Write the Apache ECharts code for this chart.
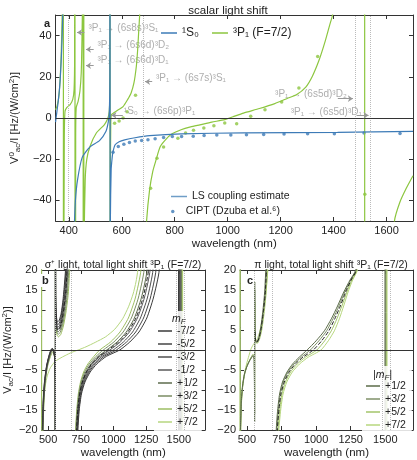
<!DOCTYPE html>
<html>
<head>
<meta charset="utf-8">
<script src="https://cdn.jsdelivr.net/npm/echarts@6/dist/echarts.min.js"></script>
<style>
  html, body { margin: 0; padding: 0; background: #fff; }
  #chart { width: 417px; height: 460px; }
</style>
</head>
<body>
<div id="chart"></div>
<script>
// panel a: scalar light shift, [wavelength nm, Hz/(W/cm2)]; +-500 marks the jump through a resonance
const s0Curve = [[350,-2],[355,3],[360,8],[366,16],[371,27],[375,40],[378,55],[399,'-'],
  [421,-52],[425,-40],[433,-30],[451,-19],[480,-14],[516,-11],[540,-6.6],[549,-2],[553,3],[555,20],
  [555.7,500],[556.3,-500],[557,-50],[560,-25],[564,-19],[567,-16.3],[575,-13],[590,-11.5],[611,-10.6],
  [650,-9.6],[705,-8.6],[824,-7.7],[1060,-7.2],[1415,-7],[1700,-6.5]]
const p1Curve = [[350,4],[356,6],[362,10],[367,18],[371,30],[374,45],[375.5,55],[379,500],[380,-500],
  [381,-100],[383,-10],[385.5,3],[392,5],[405,6.5],[415,9],[420,14],[422,30],[423,500],[424,-500],
  [426,-10],[428,5],[435,8],[442,13],[447,22],[450,40],[452,60],[454,500],[454.5,-500],[456.5,500],[457,-500],
  [458,-60],[462,-30],[468,-20],[480,-13.8],[504,-7.3],[534,-3.3],[545,-0.8],[551,1.5],[554,6],[555.3,40],
  [555.7,500],[556.2,-500],[557,-30],[558.5,-3],[561,1.6],[570,2.5],[587,4],[605,5.5],[622,8.9],[635,12],
  [646,17],[655,25],[660,33],[664,42],[667.6,50],[670,65],[680,'-'],
  [692,-60],[694,-49.7],[705,-35],[717,-26],[729,-20.6],[745,-14],[765,-10.6],[790,-7.7],[824,-5.7],
  [860,-4.3],[895,-3.3],[940,-2],[989,-0.8],[1020,0.6],[1060,2.4],[1120,4.6],[1178,7],[1225,9.5],
  [1261,11.4],[1295,15],[1320,20.3],[1345,28],[1367,36.7],[1385,45],[1396,50],[1430,90],[1510,300],
  [1517,500],[1518,-500],[1560,-150],[1630,-50],[1650,-41],[1675,-34],[1700,-28]]
const s0Cipt = [[567,-16.6],[587,-13.8],[608,-12.7],[629,-11.9],[651,-11.2],[675,-10.9],[699,-10.6],
  [726,-10.1],[758,-9.5],[791,-9],[826,-9],[870,-8.8],[911,-8.5],[959,-8.3],[1012,-8.3],[1071,-8.1],
  [1136,-8],[1213,-7.8],[1302,-7.7],[1403,-7.7],[1515,-7.3],[1651,-7.5]]
const p1Cipt = [[573,-2.5],[590,-1.5],[605,0],[620,3],[652,11],[709,-34.1],[733,-19.5],[758,-14.1],
  [812,-9.8],[841,-7.3],[871,-6],[910,-4.9],[948,-3.8],[989,-2.4],[1034,-2.8],[1087,0.8],[1141,4],
  [1204,7.8],[1269,14.6],[1340,29.8],[1518,-37]]
const resonancesA = [399, 680, 1480, 1539]
const resonancesBC = [556, 680, 1480, 1539]

// panel b: sigma+ light, one curve per m_F
const mfLabels = ['-7/2','-5/2','-3/2','-1/2','+1/2','+3/2','+5/2','+7/2']
const sigM7 = [[456,-20],[462,-13],[472,-8],[488,-4],[505,-1.6],[520,-0.1],[530,0.4],[538,0.2],[546,-0.8],[552,-2.5],[555,-8],[555.8,-60],
  [556.2,60],[557.5,15],[560,10],[565,8],[572,7],[585,7.4],[600,9.2],[614,12.5],[625,16.5],[633,20],[640,30],[680,'-'],
  [715,-40],[728,-20],[738,-15],[755,-11],[782,-8],[822,-5.5],[872,-3.5],[945,-1.6],[1048,0],[1125,2],[1195,4.5],[1255,8],[1305,13],[1350,20],[1400,60],
  [1497,400],[1498,-400],[1560,-80]]
const sigM5 = [[457,-20],[463,-13],[473,-8],[489,-4],[506,-1.6],[521,-0.1],[531,0.35],[539,0.1],[547,-0.9],[552,-2.6],[555,-8],[555.8,-60],
  [556.2,60],[557.5,14],[560,9.2],[565,7.3],[572,6.3],[586,6.7],[601,8.6],[616,12],[628,16],[636,20],[643,30],[680,'-'],
  [712,-40],[725,-20],[735,-15],[751,-11],[776,-8],[813,-5.5],[860,-3.5],[928,-1.6],[1022,0],[1100,2],[1170,4.5],[1230,8],[1282,13],[1325,20],[1380,60],
  [1501.5,400],[1502.5,-400],[1560,-80]]
const sigM3 = [[458,-20],[464,-13],[474,-8],[490,-4],[507,-1.7],[522,-0.2],[531,0.3],[540,0],[547,-1],[552,-2.7],[555,-8],[555.8,-60],
  [556.2,60],[557.5,13],[560,8.4],[565,6.6],[573,5.7],[587,6.1],[603,8],[619,11.5],[631,15.5],[640,20],[647,30],[680,'-'],
  [709,-40],[722,-20],[732,-15],[747,-11],[770,-8],[805,-5.5],[849,-3.5],[912,-1.6],[998,0],[1076,2],[1146,4.5],[1206,8],[1259,13],[1302,20],[1360,60],
  [1506,400],[1507,-400],[1560,-80]]
const sigM1 = [[459,-20],[465,-13],[475,-8],[491,-4],[508,-1.7],[523,-0.2],[532,0.25],[540,-0.1],[548,-1.1],[553,-2.8],[555.2,-8],[555.8,-60],
  [556.2,60],[557.5,12],[560,7.6],[566,5.9],[574,5.1],[589,5.6],[606,7.5],[623,11],[636,15],[645,20],[652,30],[680,'-'],
  [706,-40],[719,-20],[729,-15],[743,-11],[765,-8],[797,-5.5],[838,-3.5],[897,-1.6],[973,0],[1052,2],[1122,4.5],[1183,8],[1236,13],[1280,20],[1340,60],
  [1510.5,400],[1511.5,-400],[1560,-80]]
const sigP1 = [[460,-20],[466,-13],[476,-8],[492,-4],[509,-1.8],[524,-0.3],[532,0.2],[541,-0.2],[548,-1.2],[553,-3],[555.2,-8],[555.8,-60],
  [556.2,60],[557.5,11],[560,6.8],[566,5.2],[575,4.5],[591,5],[609,7],[627,10.5],[641,14.5],[651,20],[658,30],[680,'-'],
  [703,-40],[716,-20],[726,-15],[739,-11],[759,-8],[789,-5.5],[827,-3.5],[882,-1.6],[948,0],[1028,2],[1098,4.5],[1160,8],[1213,13],[1257,20],[1320,60],
  [1515,400],[1516,-400],[1560,-80]]
const sigP3 = [[461,-20],[467,-13],[477,-8],[493,-4.2],[510,-2],[525,-0.6],[533,-0.1],[541,-0.5],[549,-1.5],[553,-3.2],[555.2,-8],[555.8,-60],
  [556.2,60],[557.5,10],[561,6],[567,4.5],[577,3.9],[594,4.5],[613,6.5],[632,10],[647,14],[658,20],[665,30],[680,'-'],
  [700,-40],[713,-20],[722,-15],[735,-11],[753,-8],[780,-5.5],[815,-3.5],[866,-1.6],[922,0],[1003,2],[1074,4.5],[1137,8],[1190,13],[1234,20],[1300,60],
  [1519.5,400],[1520.5,-400],[1560,-80]]
const sigP5 = [[450.3,60],[450.8,-60],[462,-20],[468,-13],[478,-8],[494,-4.4],[511,-2.3],[526,-1],[534,-0.6],[542,-0.9],[549,-1.8],[553,-3.4],[555.2,-8],[555.8,-60],
  [556.2,60],[557.5,9],[561,5.2],[568,3.8],[579,3.3],[597,3.9],[617,6],[637,9.5],[654,14],[665,20],[672,30],[680,'-'],
  [697,-40],[710,-20],[719,-15],[731,-11],[748,-8],[772,-5.5],[804,-3.5],[850,-1.6],[895,0],[978,2],[1050,4.5],[1114,8],[1167,13],[1210,20],[1280,60],
  [1524,400],[1525,-400],[1560,-80]]
const sigP7 = [[450.5,60],[451,-60],[458,-20],[466,-13],[478,-9],[495,-6.3],[515,-4.6],[535,-3.6],[556,-2.8],[590,-2.1],[630,-1.4],
  [680,-0.6],[730,0],[790,0.8],[860,1.9],[940,3.3],[1010,5.2],[1070,7.8],[1115,10.8],[1150,14],[1172,17],[1186,20],[1230,60],
  [1528.5,400],[1529.5,-400],[1560,-80]]
const sigScalar = [[556.2,60],[557.5,12],[560,7.5],[566,5.8],[574,5],[589,5.5],[606,7.5],[623,11],[636,15],[645,20],[652,30],[680,'-'],
  [705,-40],[718,-20],[727,-15],[741,-11],[762,-8],[793,-5.5],[833,-3.5],[890,-1.6],[960,0],[1040,2],[1110,4.5],[1172,8],[1225,13],[1268,20],[1330,60]]

// panel c: pi light, one curve per |m_F|
const absMfLabels = ['+1/2','+3/2','+5/2','+7/2']
const piP1 = [[453,-20],[459,-13],[468,-9],[482,-6],[500,-4.1],[518,-2.8],[532,-2],[541,-1.6],[548,-1.7],[553,-2.6],[555.7,-18],
  [556.3,17],[558,5],[562,2.6],[570,2.1],[585,3],[600,5.6],[615,9.7],[627,14],[636,20],[645,35],[680,'-'],
  [700,-40],[712,-20],[722,-15],[736,-11],[757,-8],[790,-5.5],[830,-3.5],[878,-1.8],[935,0],[1000,2.3],[1060,4.8],[1110,7.8],
  [1155,11],[1200,14.5],[1245,17.5],[1285,20],[1330,60],[1497,400],[1498,-400],[1560,-80]]
const piP3 = [[454,-20],[460,-13],[469,-9],[483,-6],[501,-4],[519,-2.6],[533,-1.8],[542,-1.3],[548,-1.4],[553,-2.3],[555.7,-16],
  [556.3,15],[558,4.6],[562,2.4],[571,1.8],[587,2.8],[603,5.3],[619,9.5],[632,14],[641,20],[650,35],[680,'-'],
  [703,-40],[716,-20],[727,-15],[741,-11],[763,-8],[797,-5.5],[840,-3.5],[892,-1.8],[958,0],[1020,2.3],[1076,4.8],[1122,7.8],
  [1165,11],[1207,14.5],[1249,17.5],[1288,20],[1330,60],[1502,400],[1503,-400],[1560,-80]]
const piP5 = [[450.5,60],[451,-60],[455,-20],[461,-13],[470,-9],[484,-6],[502,-3.9],[520,-2.5],[534,-1.6],[543,-1.1],[549,-1.2],[553,-2],[555.7,-12],
  [556.3,12],[558,4.2],[563,2.2],[573,1.6],[590,2.6],[607,5],[624,9.2],[638,14],[648,20],[656,35],[680,'-'],
  [712,-40],[725,-20],[737,-15],[753,-11],[778,-8],[815,-5.5],[863,-3.5],[922,-1.8],[1005,0],[1062,2.3],[1110,4.8],[1150,7.8],
  [1186,11],[1222,14.5],[1258,17.5],[1294,20],[1340,60],[1507,400],[1508,-400],[1560,-80]]
const piP7 = [[450.8,60],[451.3,-60],[455,-20],[462,-12],[472,-8],[487,-5],[503,-2.8],[518,-1],[530,0.3],[545,1.3],[560,2],[575,2.8],
  [592,4.5],[610,7.5],[627,11.5],[641,16],[651,20],[660,35],[680,'-'],
  [716,-40],[731,-20],[744,-15],[761,-11],[788,-8],[828,-5.5],[880,-3.5],[943,-1.8],[1035,0],[1088,2.3],[1132,4.8],[1168,7.8],
  [1199,11],[1231,14.5],[1264,17.5],[1298,20],[1340,60],[1512,400],[1513,-400],[1560,-80]]
const piScalar = [[558,4.6],[562,2.4],[571,1.9],[587,2.9],[603,5.4],[619,9.6],[632,14],[641,20],[650,35],[680,'-'],
  [708,-40],[720,-20],[731,-15],[746,-11],[770,-8],[805,-5.5],[850,-3.5],[905,-1.8],[980,0],[1040,2.3],[1092,4.8],[1135,7.8],
  [1175,11],[1214,14.5],[1253,17.5],[1291,20],[1340,60]]

// annotation text in panel a: label, text anchor (nm, value), arrow from, arrow to
const notes = [
  ['³P₁ → (6s8s)³S₁', 474, 43.4, 459, 41.5, 431, 41.5],
  ['³P₁ → (6s6d)³D₂', 508, 35.4, 494, 33.3, 465, 33.3],
  ['³P₁ → (6s6d)³D₁', 508, 27.8, 494, 25.4, 465, 25.4],
  ['³P₁ → (6s7s)³S₁', 729, 19.5, 715, 17.6, 688, 17.6],
  ['¹S₀ → (6s6p)³P₁', 608, 3.2, 604, 1.3, 561, 1.3],
  ['³P₁ → (6s5d)³D₂', 1179, 11.4, 1416, 9.4, 1473, 9.4],
  ['³P₁ → (6s5d)³D₁', 1238, 2.9, 1487, 1.3, 1532, 1.3],
]

const blue = '#3d7bb7'
const green = '#8cc63f'
const sigColors = ['#3a3a3a','#454545','#4f4f4f','#5a5a5a','#5d6b4d','#7b8d63','#9dbe63','#b6d67f']
const piColors = ['#5b6b49','#7f9168','#a3c46a','#b7d77e']
const font = 'Liberation Sans, Arial, sans-serif'
const txt = { fontFamily: font, color: '#222' }
const rich = {
  sup: { fontSize: 8, verticalAlign: 'top', lineHeight: 14, fontFamily: font, color: '#222' },
  sub: { fontSize: 8, verticalAlign: 'bottom', lineHeight: 14, fontFamily: font, color: '#222' },
}
const minus = v => String(v).replace('-', '−')

const chart = echarts.init(document.getElementById('chart'), null, { renderer: 'canvas' })

function xAxis(grid, min, max, ticks, top){
  return {
    type: 'value', gridIndex: grid, min, max, position: top ? 'top' : 'bottom',
    axisLine: { show: true, onZero: false, lineStyle: { color: '#333', width: 1 } },
    axisTick: { show: true, inside: true, length: 4, customValues: ticks, lineStyle: { color: '#333' } },
    axisLabel: { show: !top, customValues: ticks, margin: 4, fontSize: 11, formatter: v => String(v), ...txt },
    splitLine: { show: false },
    name: top ? '' : 'wavelength (nm)', nameLocation: 'middle', nameGap: 17,
    nameTextStyle: { fontSize: 11.5, ...txt },
  }
}

function yAxis(grid, min, max, ticks, right, name){
  return {
    type: 'value', gridIndex: grid, min, max, position: right ? 'right' : 'left',
    axisLine: { show: true, onZero: false, lineStyle: { color: '#333', width: 1 } },
    axisTick: { show: true, inside: true, length: 4, customValues: ticks, lineStyle: { color: '#333' } },
    axisLabel: { show: !right, customValues: ticks, margin: 4, fontSize: 11, formatter: minus, ...txt },
    splitLine: { show: false },
    name: right ? '' : name, nameLocation: 'middle', nameGap: 23,
    nameTextStyle: { fontSize: 11, lineHeight: 14, ...txt, rich },
  }
}

function guides(xi, yi, lines){
  return {
    type: 'line', xAxisIndex: xi, yAxisIndex: yi, data: [], silent: true,
    markLine: {
      silent: true, symbol: 'none', label: { show: false }, animation: false,
      lineStyle: { color: '#bbb', type: 'dotted', width: 1 },
      data: [
        ...lines.map(x => ({ xAxis: x })),
        { yAxis: 0, lineStyle: { color: '#333', type: 'solid', width: 1 } },
      ],
    },
  }
}

function curve(name, data, xi, yi, color, width, dashed){
  return {
    type: 'line', name, data, xAxisIndex: xi, yAxisIndex: yi, symbol: 'none',
    smooth: 0.2, connectNulls: false, clip: true, animation: false,
    lineStyle: { color, width, type: dashed ? 'dashed' : 'solid' },
    itemStyle: { color },
  }
}

const sigData = [sigM7, sigM5, sigM3, sigM1, sigP1, sigP3, sigP5, sigP7]
const piData = [piP1, piP3, piP5, piP7]

const series = [
  guides(0, 0, resonancesA),
  curve('³P₁ (F=7/2)', p1Curve, 0, 0, green, 1.2),
  curve('¹S₀', s0Curve, 0, 0, blue, 1.2),
  curve('LS coupling estimate', [], 0, 0, '#6f9dc7', 1.5),
  { type: 'scatter', name: 'CIPT (Dzuba et al.⁶)', data: [], xAxisIndex: 0, yAxisIndex: 0, itemStyle: { color: blue } },
  { type: 'scatter', name: 'cipt-s0', data: s0Cipt, xAxisIndex: 0, yAxisIndex: 0, symbolSize: 3.5, itemStyle: { color: blue }, animation: false },
  { type: 'scatter', name: 'cipt-p1', data: p1Cipt, xAxisIndex: 0, yAxisIndex: 0, symbolSize: 3.5, itemStyle: { color: green }, animation: false },
  {
    type: 'scatter', name: 'notes', xAxisIndex: 0, yAxisIndex: 0, symbolSize: 0, silent: true, animation: false,
    data: notes.map(n => ({ name: n[0], value: [n[1], n[2]] })),
    label: { show: true, position: 'right', distance: 0, formatter: p => p.name, fontSize: 10, color: '#999', fontFamily: font },
    markLine: {
      silent: true, symbol: ['none', 'arrow'], symbolSize: 5, label: { show: false }, animation: false,
      lineStyle: { color: '#999', type: 'solid', width: 1 },
      data: notes.map(n => [{ coord: [n[3], n[4]] }, { coord: [n[5], n[6]] }]),
    },
  },
  guides(2, 2, resonancesBC),
  ...sigData.map((d, i) => curve(mfLabels[i], d, 2, 2, sigColors[i], 1)).reverse(),
  curve('dash-b', sigScalar, 2, 2, '#222', 1, true),
  guides(4, 4, resonancesBC),
  ...piData.map((d, i) => curve(absMfLabels[i] + ' ', d, 4, 4, piColors[i], 1)).reverse(),
  curve('dash-c', piScalar, 4, 4, '#222', 1, true),
]

const xTicksA = [400, 600, 800, 1000, 1200, 1400, 1600]
const yTicksA = [-40, -20, 0, 20, 40]
const xTicksBC = [500, 750, 1000, 1250, 1500]
const yTicksBC = [-20, -15, -10, -5, 0, 5, 10, 15, 20]

const lineIcon = name => ({ name, icon: 'rect' })

const option = {
  backgroundColor: '#fff',
  animation: false,
  textStyle: { fontFamily: font },
  grid: [
    { left: 33, top: 15, width: 380, height: 206 },
    { left: 32, top: 270, width: 173, height: 164 },
    { left: 240, top: 270, width: 173, height: 164 },
  ],
  xAxis: [
    xAxis(0, 350, 1700, xTicksA), xAxis(0, 350, 1700, xTicksA, true),
    xAxis(1, 450, 1700, xTicksBC), xAxis(1, 450, 1700, xTicksBC, true),
    xAxis(2, 450, 1700, xTicksBC), xAxis(2, 450, 1700, xTicksBC, true),
  ],
  yAxis: [
    yAxis(0, -50, 50, yTicksA, false, 'V{sup|0}{sub|ac}/I [Hz/(W/cm{sup|2})]'), yAxis(0, -50, 50, yTicksA, true),
    yAxis(1, -20, 20, yTicksBC, false, 'V{sub|ac}/I [Hz/(W/cm{sup|2})]'), yAxis(1, -20, 20, yTicksBC, true),
    yAxis(2, -20, 20, yTicksBC, false, ''), yAxis(2, -20, 20, yTicksBC, true),
  ],
  title: [
    { text: 'scalar light shift', left: 223, top: 0, textAlign: 'center', textStyle: { fontSize: 11.5, fontWeight: 'normal', ...txt } },
    { text: 'σ⁺ light, total light shift ³P₁ (F=7/2)', left: 118, top: 255, textAlign: 'center', textStyle: { fontSize: 10.5, fontWeight: 'normal', ...txt } },
    { text: 'π light, total light shift ³P₁ (F=7/2)', left: 326, top: 255, textAlign: 'center', textStyle: { fontSize: 10.5, fontWeight: 'normal', ...txt } },
    { text: 'a', left: 43, top: 17, padding: 1, backgroundColor: '#fff', textStyle: { fontSize: 11, fontWeight: 'bold', ...txt } },
    { text: 'b', left: 41, top: 274, padding: 1, backgroundColor: '#fff', textStyle: { fontSize: 11, fontWeight: 'bold', ...txt } },
    { text: 'c', left: 246, top: 274, padding: 1, backgroundColor: '#fff', textStyle: { fontSize: 11, fontWeight: 'bold', ...txt } },
    { text: 'm{sub|F}', left: 172, top: 312, padding: 0, z: 10,
      textStyle: { fontSize: 10.5, fontStyle: 'italic', fontWeight: 'normal', lineHeight: 14, ...txt,
        rich: { sub: { ...rich.sub, fontStyle: 'italic' } } } },
    { text: '|m{sub|F}|', left: 373, top: 368, padding: 0, z: 10,
      textStyle: { fontSize: 10.5, fontStyle: 'italic', fontWeight: 'normal', lineHeight: 14, ...txt,
        rich: { sub: { ...rich.sub, fontStyle: 'italic' } } } },
  ],
  legend: [
    { data: ['¹S₀', '³P₁ (F=7/2)'].map(lineIcon), left: 156, top: 22, itemWidth: 16, itemHeight: 1.5, itemGap: 13,
      textStyle: { fontSize: 12, ...txt } },
    { data: [lineIcon('LS coupling estimate')], left: 166, top: 186, itemWidth: 16, itemHeight: 1.5,
      textStyle: { fontSize: 10.5, ...txt } },
    { data: [{ name: 'CIPT (Dzuba et al.⁶)', icon: 'circle' }], left: 166, top: 201, itemWidth: 16, itemHeight: 3.5,
      textStyle: { fontSize: 10.5, ...txt } },
    { data: mfLabels.map(lineIcon), orient: 'vertical', left: 154, top: 311, padding: [14, 4, 3, 4],
      backgroundColor: 'rgba(255,255,255,0.85)', itemWidth: 14, itemHeight: 1.5, itemGap: 1,
      textStyle: { fontSize: 10.5, lineHeight: 12, ...txt } },
    { data: absMfLabels.map(s => lineIcon(s + ' ')), orient: 'vertical', left: 362, top: 366, padding: [14, 6, 3, 4],
      backgroundColor: 'rgba(255,255,255,0.85)', itemWidth: 14, itemHeight: 1.5, itemGap: 1,
      formatter: n => n.trim(), textStyle: { fontSize: 10.5, lineHeight: 12, ...txt } },
  ],
  series,
}

chart.setOption(option)
</script>
</body>
</html>
